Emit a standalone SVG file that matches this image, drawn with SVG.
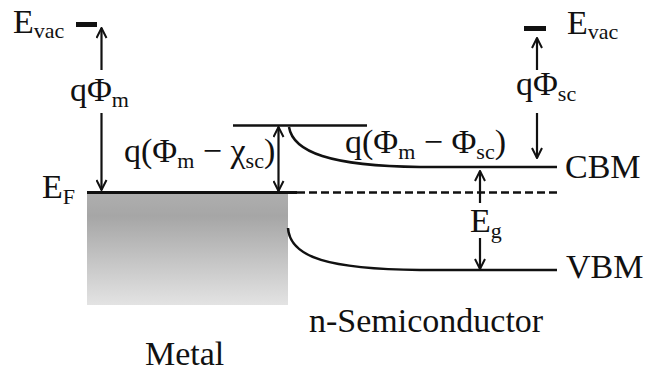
<svg xmlns="http://www.w3.org/2000/svg" width="645" height="371" viewBox="0 0 645 371">
<style>
  text { font-family: "Liberation Serif", "Times New Roman", serif; font-size: 34px; fill: #111; }
  .sub { font-size: 22px; }
  .ln { stroke: #111; stroke-width: 2.5; fill: none; }
  .ar { stroke: #111; stroke-width: 2.2; fill: none; }
</style>
<defs>
  <linearGradient id="metalGrad" x1="0" y1="0" x2="0" y2="1">
    <stop offset="0" stop-color="#aeaeae"/>
    <stop offset="0.2" stop-color="#a6a6a6"/>
    <stop offset="1" stop-color="#e3e3e3"/>
  </linearGradient>
  <marker id="ah" viewBox="0 0 12 12" refX="11" refY="6" markerWidth="12" markerHeight="12" markerUnits="userSpaceOnUse" orient="auto-start-reverse">
    <polyline points="1,1 11,6 1,11" fill="none" stroke="#111" stroke-width="2"/>
  </marker>
</defs>

<g id="metal">
  <rect x="87" y="194" width="201" height="111" fill="url(#metalGrad)"/>
  <text x="145" y="365">Metal</text>
</g>

<g id="metal-evac">
  <rect x="76" y="22" width="21" height="5" fill="#111"/>
  <text x="13" y="33">E<tspan class="sub" dy="5">vac</tspan></text>
</g>

<g id="fermi-level">
  <text x="42" y="198">E<tspan class="sub" dy="6">F</tspan></text>
</g>

<g id="sc-evac">
  <rect x="524" y="26" width="22" height="5" fill="#111"/>
  <text x="567" y="34">E<tspan class="sub" dy="5">vac</tspan></text>
</g>

<g id="cbm">
  <text x="565" y="178">CBM</text>
</g>

<g id="vbm">
  <text x="566" y="278">VBM</text>
</g>

<g id="semiconductor">
  <text x="309" y="332">n-Semiconductor</text>
</g>

<g id="bands">
  <line class="ln" x1="87" y1="192.5" x2="297" y2="192.5" style="stroke-width:3"/>
  <line class="ln" x1="297" y1="192.5" x2="557" y2="192.5" stroke-dasharray="8,4"/>
  <line class="ln" x1="233" y1="125.5" x2="367" y2="125.5"/>
  <path class="ln" d="M289,127 C293,152 330,166 420,167 L557,167"/>
  <path class="ln" d="M288,228 C290,258 330,269 420,270 L557,270"/>
</g>

<g id="connectors">
  <line class="ar" x1="101.5" y1="70" x2="101.5" y2="28" marker-end="url(#ah)"/>
  <line class="ar" x1="101.5" y1="113" x2="101.5" y2="190" marker-end="url(#ah)"/>
  <line class="ar" x1="278.5" y1="127" x2="278.5" y2="191" marker-start="url(#ah)" marker-end="url(#ah)"/>
  <line class="ar" x1="537" y1="70" x2="537" y2="38" marker-end="url(#ah)"/>
  <line class="ar" x1="537" y1="113" x2="537" y2="158" marker-end="url(#ah)"/>
  <line class="ar" x1="480" y1="203" x2="480" y2="171" marker-end="url(#ah)"/>
  <line class="ar" x1="480" y1="238" x2="480" y2="269" marker-end="url(#ah)"/>
</g>

<g id="labels">
  <text x="70" y="101">qΦ<tspan class="sub" dy="6">m</tspan></text>
  <text x="516" y="95">qΦ<tspan class="sub" dy="6">sc</tspan></text>
  <text x="124" y="162">q(Φ<tspan class="sub" dy="6">m</tspan><tspan dy="-6"> − χ</tspan><tspan class="sub" dy="6">sc</tspan><tspan dy="-6">)</tspan></text>
  <text x="345" y="153">q(Φ<tspan class="sub" dy="6">m</tspan><tspan dy="-6"> − Φ</tspan><tspan class="sub" dy="6">sc</tspan><tspan dy="-6">)</tspan></text>
  <text x="470" y="232">E<tspan class="sub" dy="6">g</tspan></text>
</g>
</svg>
